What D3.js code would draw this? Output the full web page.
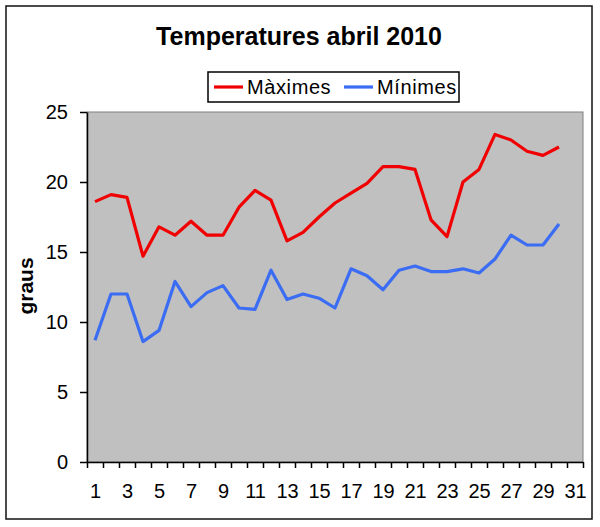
<!DOCTYPE html>
<html>
<head>
<meta charset="utf-8">
<script src="https://cdn.jsdelivr.net/npm/d3@7"></script>
<style>
  body { margin: 0; background: #fff; }
  text { font-family: Arial, 'Liberation Sans', sans-serif; }
</style>
</head>
<body>
<svg id="main"></svg>
<script>
const width = 600;
const height = 527;
const position = { left: 87, top: 112, right: 17, bottom: 65 };
const innerWidth = width - position.left - position.right;
const innerHeight = height - position.top - position.bottom;

// dies d'abril
const days = d3.range(1, 31);
const maximes = [18.6, 19.1, 18.9, 14.7, 16.8, 16.2, 17.2, 16.2, 16.2, 18.2,
    19.4, 18.7, 15.8, 16.4, 17.5, 18.5, 19.2, 19.9, 21.1, 21.1,
    20.9, 17.3, 16.1, 20.0, 20.9, 23.4, 23.0, 22.2, 21.9, 22.5];
const minimes = [8.7, 12.0, 12.0, 8.6, 9.4, 12.9, 11.1, 12.1, 12.6, 11.0,
    10.9, 13.7, 11.6, 12.0, 11.7, 11.0, 13.8, 13.3, 12.3, 13.7,
    14.0, 13.6, 13.6, 13.8, 13.5, 14.5, 16.2, 15.5, 15.5, 17.0];
const xLabels = d3.range(1, 32, 2);
const yTicks = [0, 5, 10, 15, 20, 25];
const series = [
    { name: 'Màximes', values: maximes, color: '#f00000' },
    { name: 'Mínimes', values: minimes, color: '#3a6cf4' }
];

const mainSvg = d3.select('#main').attr('width', width).attr('height', height);

// marc exterior
mainSvg.append('rect')
    .attr('x', 6).attr('y', 6)
    .attr('width', 586).attr('height', 513)
    .attr('fill', '#fff')
    .attr('stroke', '#111')
    .attr('stroke-width', 1.5);

mainSvg.append('text')
    .attr('x', 299).attr('y', 45)
    .attr('text-anchor', 'middle')
    .attr('font-size', 25)
    .attr('font-weight', 'bold')
    .text('Temperatures abril 2010');

const mainGroup = mainSvg.append('g')
    .attr('transform', `translate(${position.left}, ${position.top})`);

// 31 categories (dies), la darrera buida
const xScale = d3.scaleLinear().domain([0.5, 31.5]).range([0, innerWidth]);
const yScale = d3.scaleLinear().domain([0, 25]).range([innerHeight, 0]);

mainGroup.append('rect')
    .attr('width', innerWidth)
    .attr('height', innerHeight)
    .attr('fill', '#c0c0c0')
    .attr('stroke', '#808080')
    .attr('stroke-width', 1);

// eixos
const yAxis = d3.axisLeft(yScale).tickValues(yTicks).tickSizeInner(7).tickSizeOuter(0).tickPadding(12);
const yG = mainGroup.append('g').call(yAxis);
yG.selectAll('text').attr('font-size', 20).attr('fill', '#000');
yG.selectAll('line, path').attr('stroke', '#000').attr('stroke-width', 1.5);

const bounds = d3.range(0.5, 32, 1);
const xTickAxis = d3.axisBottom(xScale).tickValues(bounds).tickFormat('').tickSizeInner(6).tickSizeOuter(0);
const xG = mainGroup.append('g').attr('transform', `translate(0,${innerHeight})`).call(xTickAxis);
xG.selectAll('line, path').attr('stroke', '#000').attr('stroke-width', 1.5);

const xLabelAxis = d3.axisBottom(xScale).tickValues(xLabels).tickFormat(d3.format('d')).tickSize(0).tickPadding(22);
const xL = mainGroup.append('g').attr('transform', `translate(0,${innerHeight})`).call(xLabelAxis);
xL.select('.domain').remove();
xL.selectAll('text').attr('font-size', 20).attr('fill', '#000');

// línies
const line = d3.line().x((d, i) => xScale(days[i])).y(d => yScale(d));
mainGroup.selectAll('.serie')
    .data(series)
    .join('path')
    .attr('class', 'serie')
    .attr('fill', 'none')
    .attr('stroke', d => d.color)
    .attr('stroke-width', 3.2)
    .attr('stroke-linejoin', 'round')
    .attr('d', d => line(d.values));

// títol de l'eix
mainSvg.append('text')
    .attr('transform', 'translate(33,286) rotate(-90)')
    .attr('text-anchor', 'middle')
    .attr('font-size', 21)
    .attr('font-weight', 'bold')
    .text('graus');

// llegenda
const legend = mainSvg.append('g');
legend.append('rect')
    .attr('x', 208).attr('y', 72)
    .attr('width', 251).attr('height', 30)
    .attr('fill', '#fff')
    .attr('stroke', '#000')
    .attr('stroke-width', 1.5);
const legendX = [214, 344];
const items = legend.selectAll('.item')
    .data(series)
    .join('g')
    .attr('class', 'item')
    .attr('transform', (d, i) => `translate(${legendX[i]}, 87)`);
items.append('line')
    .attr('x1', 0).attr('x2', 29)
    .attr('stroke', d => d.color)
    .attr('stroke-width', 3.2);
items.append('text')
    .attr('x', 33).attr('y', 7)
    .attr('font-size', 20)
    .attr('letter-spacing', 0.6)
    .text(d => d.name);
</script>
</body>
</html>
